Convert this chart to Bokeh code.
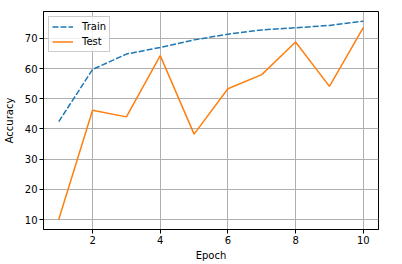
from bokeh.plotting import figure
from bokeh.models import Range1d, FixedTicker, Legend, LegendItem
from bokeh.embed import file_html
from bokeh.resources import INLINE

epochs = [1, 2, 3, 4, 5, 6, 7, 8, 9, 10]
train = [42.4, 59.7, 64.8, 67.0, 69.5, 71.4, 72.8, 73.5, 74.3, 75.7]
test = [10.0, 46.2, 44.0, 64.3, 38.3, 53.3, 58.0, 68.8, 54.1, 73.6]
x_ticks = [2, 4, 6, 8, 10]
y_ticks = [10, 20, 30, 40, 50, 60, 70]

FONT = "DejaVu Sans"

p = figure(width=386, height=248, output_backend="svg", toolbar_location=None,
           x_range=Range1d(0.55, 10.45), y_range=Range1d(6.7, 78.9),
           frame_width=335, frame_height=218,
           min_border_left=43, min_border_top=11, min_border_right=8, min_border_bottom=20)

p.background_fill_color = "white"
p.border_fill_color = "white"
p.outline_line_color = "black"
p.outline_line_width = 1

for ax, ticks, label in ((p.xaxis[0], x_ticks, "Epoch"), (p.yaxis[0], y_ticks, "Accuracy")):
    ax.ticker = FixedTicker(ticks=ticks)
    ax.axis_label = label
    ax.axis_label_text_font = FONT
    ax.axis_label_text_font_size = "10px"
    ax.axis_label_text_font_style = "normal"
    ax.axis_label_text_color = "black"
    ax.major_label_text_font = FONT
    ax.major_label_text_font_size = "10px"
    ax.major_label_text_color = "black"
    ax.minor_tick_line_color = None
    ax.major_tick_in = 0
    ax.major_tick_out = 4
    ax.major_tick_line_color = "black"
    ax.axis_line_color = "black"
    ax.major_label_standoff = 2

p.xaxis[0].axis_label_standoff = 3
p.yaxis[0].axis_label_standoff = 7

for g in (p.xgrid[0], p.ygrid[0]):
    g.grid_line_color = "#b0b0b0"
    g.grid_line_width = 1
p.xgrid[0].ticker = FixedTicker(ticks=x_ticks)
p.ygrid[0].ticker = FixedTicker(ticks=y_ticks)

r1 = p.line(epochs, train, line_color="#1f77b4", line_width=1.5, line_dash="6 2")
r2 = p.line(epochs, test, line_color="#ff7f0e", line_width=1.5)

legend = Legend(items=[LegendItem(label="Train", renderers=[r1]),
                       LegendItem(label="Test", renderers=[r2])],
                location="top_left")
legend.label_text_font = FONT
legend.label_text_font_size = "10px"
legend.label_text_color = "black"
legend.border_line_color = "#cccccc"
legend.border_line_alpha = 1
legend.background_fill_alpha = 0.8
legend.glyph_width = 21
legend.glyph_height = 13
legend.label_height = 13
legend.spacing = 2
legend.padding = 3
legend.margin = 5
legend.label_standoff = 9
p.add_layout(legend)

open("out.html", "w").write(file_html(p, INLINE))
